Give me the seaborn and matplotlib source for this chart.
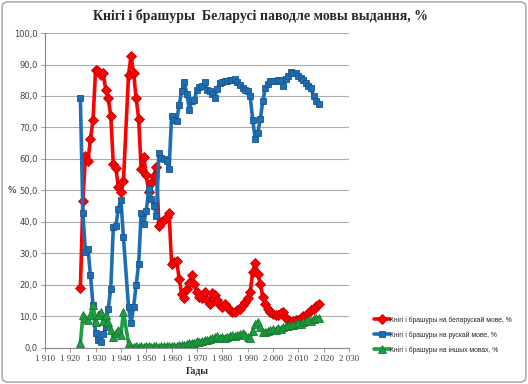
import pandas as pd
import matplotlib.pyplot as plt
import matplotlib.patches as mpatches
import seaborn as sns

# years (no point for 1942)
years = list(range(1924, 1942)) + list(range(1943, 2019))

belarusian = [18.9, 46.7, 60.9, 59.4, 66.5, 72.5, 88.3, 87.8, 86.7, 87.2,
              82.0, 79.4, 73.6, 58.3, 57.2, 51.0, 49.4, 53.0,
              86.7, 92.8, 87.2, 79.4, 72.8, 56.7, 60.6, 55.0, 49.5, 52.5,
              54.5, 57.5, 38.8, 39.9, 40.5, 41.5, 43.0, 26.7, 27.2, 27.5,
              22.0, 17.0, 16.0, 18.8, 20.5, 23.3, 20.4, 17.8, 16.2, 15.7,
              17.8, 15.2, 14.1, 17.3, 16.7, 15.2, 13.5, 13.0, 14.1, 13.0,
              12.0, 11.5, 11.5, 12.0, 12.5, 13.5, 14.6, 16.0, 17.8, 24.1,
              26.9, 23.6, 20.4, 16.2, 14.0, 12.5, 11.5, 10.9, 10.4, 10.4,
              11.0, 11.5, 9.4, 8.8, 8.3, 8.5, 8.8, 9.0, 9.4, 10.0,
              10.5, 11.0, 12.0, 12.5, 13.3, 14.1]

russian = [79.4, 42.7, 30.5, 31.5, 23.0, 13.6, 4.6, 2.5, 2.0, 4.3,
           6.7, 12.5, 18.8, 38.3, 38.8, 44.1, 47.0, 35.1,
           13.0, 7.8, 13.0, 19.9, 26.7, 43.0, 39.5, 43.5, 50.5, 47.3,
           45.1, 42.0, 61.8, 60.4, 59.9, 59.4, 56.8, 73.6, 72.5, 72.0,
           77.3, 81.5, 84.6, 80.7, 75.7, 78.5, 78.8, 82.0, 83.0, 83.3,
           84.3, 82.0, 81.5, 80.5, 79.4, 82.3, 84.0, 84.6, 84.8, 84.9,
           85.0, 85.2, 85.4, 84.5, 83.6, 82.5, 82.0, 81.5, 79.9, 72.5,
           66.2, 68.3, 72.7, 78.5, 82.5, 83.8, 84.8, 84.9, 84.9, 85.2,
           85.2, 83.3, 85.4, 86.2, 87.5, 87.2, 87.2, 86.2, 85.8, 85.2,
           84.1, 83.3, 82.5, 79.9, 78.3, 77.5]

other = [1.5, 10.4, 9.4, 9.0, 10.4, 13.6, 8.3, 10.4, 11.5, 8.5,
         10.4, 8.3, 5.7, 3.6, 4.6, 5.7, 4.0, 11.5,
         1.5, 0.3, 0.4, 0.5, 0.4, 0.5, 0.4, 0.6, 0.5, 0.4,
         0.6, 0.5, 0.4, 0.5, 0.6, 0.5, 0.6, 0.5, 0.6, 0.5,
         0.8, 1.0, 1.0, 1.2, 1.5, 1.4, 1.6, 2.2, 2.0, 2.3,
         2.5, 2.4, 2.8, 3.0, 3.4, 3.8, 3.2, 3.5, 3.3, 3.6,
         3.8, 4.0, 3.7, 4.2, 4.4, 4.7, 4.2, 3.5, 3.2, 5.5,
         7.5, 8.3, 6.5, 5.0, 5.2, 5.5, 5.8, 5.9, 5.7, 6.2,
         6.0, 6.6, 6.8, 7.0, 7.3, 7.2, 7.5, 7.8, 7.7, 8.2,
         8.4, 8.8, 8.6, 9.2, 9.5, 9.4]

labels = ["Кнігі і брашуры на беларускай мове, %",
          "Кнігі і брашуры на рускай мове, %",
          "Кнігі і брашуры на іншых мовах, %"]

data = pd.DataFrame({"year": years, labels[0]: belarusian,
                     labels[1]: russian, labels[2]: other})

sns.set_style("white")

fig = plt.figure(figsize=(5.28, 3.84), dpi=100)
ax = fig.add_axes([0.085, 0.094, 0.576, 0.82])

# (colour, edge, marker, size)
styles = [("#FF0000", "#C00000", "D", 4.8),
          ("#1F6EB4", "#17558C", "s", 5.0),
          ("#1E9E42", "#157A30", "^", 5.6)]

for lab, (col, edge, mk, ms) in zip(labels, styles):
    sns.lineplot(data=data, x="year", y=lab, ax=ax, color=col, linewidth=2.6,
                 marker=mk, markersize=ms, markeredgecolor=edge,
                 markeredgewidth=0.6, label=lab, legend=False)

ax.set_xlim(1910, 2030)
ax.set_ylim(0, 100)
xt = list(range(1910, 2031, 10))
ax.set_xticks(xt)
ax.set_xticklabels([f"{t // 1000} {t % 1000:03d}" for t in xt],
                   fontsize=6.5, family="Liberation Serif", color="#404040")
yt = list(range(0, 101, 10))
ax.set_yticks(yt)
ax.set_yticklabels([f"{t},0" for t in yt], fontsize=6, color="#404040")
ax.tick_params(axis="both", length=3, width=0.6, color="#888888", pad=2,
               bottom=True, left=True)
ax.yaxis.grid(True, color="#ABABAB", linewidth=0.8)
ax.xaxis.grid(False)
for s in ["top", "right"]:
    ax.spines[s].set_visible(False)
for s in ["left", "bottom"]:
    ax.spines[s].set_color("#888888")
    ax.spines[s].set_linewidth(0.8)

ax.set_xlabel("Гады", fontsize=7, family="Liberation Serif",
              fontweight="bold", labelpad=3)
ax.set_ylabel("%", fontsize=6.5, rotation=0, va="center", ha="center")
ax.yaxis.set_label_coords(-0.108, 0.5)

fig.text(0.493, 0.958, "Кнігі і брашуры  Беларусі паводле мовы выдання, %",
         ha="center", va="center", fontsize=10, fontweight="bold",
         family="Liberation Serif")

handles, labs = ax.get_legend_handles_labels()
fig.legend(handles, labs, loc="lower left", bbox_to_anchor=(0.703, 0.072),
           frameon=False, prop={"family": "Liberation Sans", "size": 4.9},
           handlelength=2.3, handletextpad=0.1, labelspacing=1.05,
           borderaxespad=0)

fig.patches.append(mpatches.FancyBboxPatch(
    (0.004, 0.005), 0.992, 0.99, boxstyle="round,pad=0,rounding_size=0.012",
    transform=fig.transFigure, fill=False, edgecolor="#A0A0A0", linewidth=1))

fig.savefig("out.png", dpi=100)
